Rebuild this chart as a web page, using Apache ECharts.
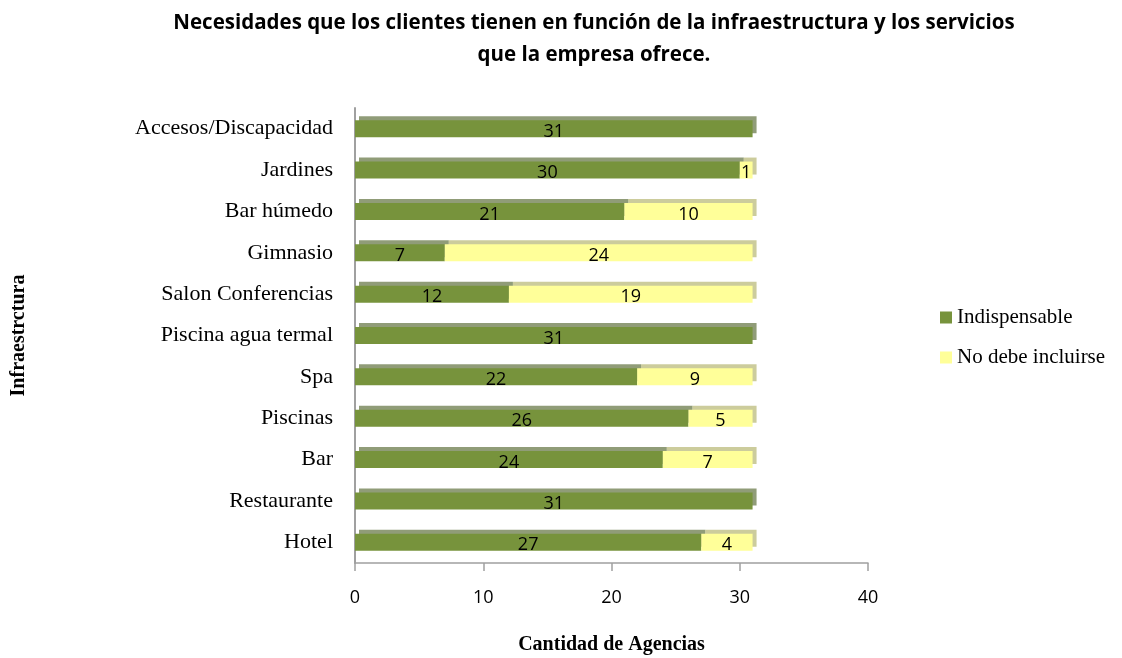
<!DOCTYPE html>
<html><head><meta charset="utf-8">
<script src="https://cdn.jsdelivr.net/npm/echarts@6/dist/echarts.min.js"></script>
<style>html,body{margin:0;padding:0;background:#fff}#c{width:1122px;height:658px}</style>
</head><body><div id="c"></div>
<script>
const categories = ["Hotel","Restaurante","Bar","Piscinas","Spa","Piscina agua termal","Salon Conferencias","Gimnasio","Bar húmedo","Jardines","Accesos/Discapacidad"];
const indispensable = [27,31,24,26,22,31,12,7,21,30,31];
const noDebe = [4,0,7,5,9,0,19,24,10,1,0];
const xTicks = [0,10,20,30,40];
const titleLines = ['Necesidades que los clientes tienen en función de la infraestructura y los servicios','que la empresa ofrece.'];

const chart = echarts.init(document.getElementById('c'));
const lbl = {show:true, position:'inside', color:'#000', fontFamily:'Open Sans', fontSize:18, offset:[0,3],
  formatter: p => p.value === 0 ? '' : String(p.value)};
chart.setOption({
  animation:false,
  graphic:[
    {type:'text', x:594, y:23, style:{text:titleLines[0], textAlign:'center', textVerticalAlign:'middle',
      font:'bold 20.5px "Open Sans"', fill:'#000'}},
    {type:'text', x:594, y:55, style:{text:titleLines[1], textAlign:'center', textVerticalAlign:'middle',
      font:'bold 20.5px "Open Sans"', fill:'#000'}}
  ],
  legend:{orient:'vertical', left:935, top:302, itemWidth:12, itemHeight:12, itemGap:19,
    icon:'rect', textStyle:{fontFamily:'Liberation Serif', fontSize:21, color:'#000'},
    data:['Indispensable','No debe incluirse']},
  grid:{left:355, right:254, top:108, bottom:95, outerBoundsMode:'none', containLabel:false},
  xAxis:{type:'value', min:xTicks[0], max:xTicks[xTicks.length-1], interval:10,
    splitLine:{show:false},
    axisLine:{show:true, lineStyle:{color:'#a0a0a0', width:1.5}},
    axisTick:{show:true, length:8, lineStyle:{color:'#a0a0a0', width:1.5}},
    axisLabel:{fontFamily:'Open Sans', fontSize:18, color:'#000', margin:26},
    name:'Cantidad de Agencias', nameLocation:'middle', nameGap:72,
    nameTextStyle:{fontFamily:'Liberation Serif', fontWeight:'bold', fontSize:20, color:'#000'}},
  yAxis:{type:'category', data:categories,
    axisLine:{show:true, lineStyle:{color:'#a0a0a0', width:2}},
    axisTick:{show:false},
    axisLabel:{fontFamily:'Liberation Serif', fontSize:22, color:'#000', margin:22},
    name:'Infraestrctura', nameLocation:'middle', nameGap:326, nameRotate:90,
    nameTextStyle:{fontFamily:'Liberation Serif', fontWeight:'bold', fontSize:20, color:'#000'}},
  series:[
    {name:'Indispensable', type:'bar', stack:'t', data:indispensable, barWidth:17,
     itemStyle:{color:'#77933C', shadowColor:'rgba(70,90,30,0.6)', shadowOffsetX:4, shadowOffsetY:-4, shadowBlur:0}, label:lbl},
    {name:'No debe incluirse', type:'bar', stack:'t', data:noDebe, barWidth:17,
     itemStyle:{color:'#FFFF99', shadowColor:'rgba(170,170,90,0.6)', shadowOffsetX:4, shadowOffsetY:-4, shadowBlur:0}, label:lbl}
  ]
});
</script></body></html>
